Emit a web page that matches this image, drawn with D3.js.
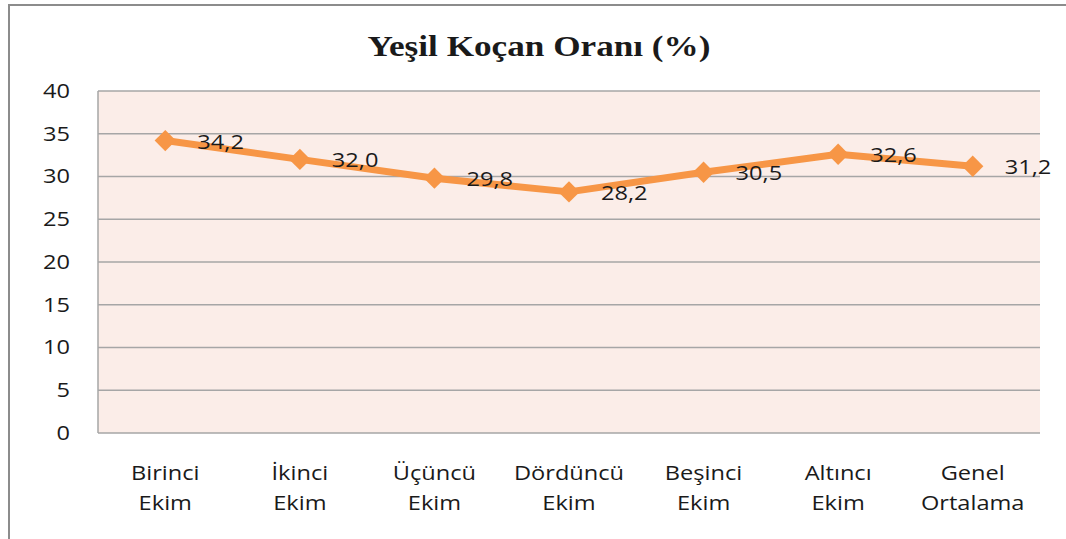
<!DOCTYPE html>
<html>
<head>
<meta charset="utf-8">
<script src="https://cdn.jsdelivr.net/npm/d3@7"></script>
<style>
  body { margin: 0; background: #fff; }
  text { font-family: "Open Sans", "DejaVu Sans", sans-serif; fill: #1a1a1a; }
</style>
</head>
<body>
<div id="chart"></div>
<script>
const categories = [
    ["Birinci", "Ekim"],
    ["İkinci", "Ekim"],
    ["Üçüncü", "Ekim"],
    ["Dördüncü", "Ekim"],
    ["Beşinci", "Ekim"],
    ["Altıncı", "Ekim"],
    ["Genel", "Ortalama"]
]
const values = [34.2, 32.0, 29.8, 28.2, 30.5, 32.6, 31.2]
const yTicks = [0, 5, 10, 15, 20, 25, 30, 35, 40]
const title = "Yeşil Koçan Oranı (%)"

const width = 1066;
const height = 539;

const margin = {
    "top": 91,
    "left": 98,
    "bottom": 106,
    "right": 26
}
const innerW = width - margin.left - margin.right;
const innerH = height - margin.top - margin.bottom;

// stretch text horizontally, the source picture is widened
const stretch = 1.18;
function widen(sel) {
    sel.each(function() {
        const w = this.getComputedTextLength();
        d3.select(this).attr("textLength", w * stretch).attr("lengthAdjust", "spacingAndGlyphs");
    });
}

const svg = d3.select("#chart").append("svg").attr("width", width).attr("height", height);

// outer frame
svg.append("rect")
    .attr("x", 9)
    .attr("y", 5)
    .attr("width", width + 20)
    .attr("height", height + 20)
    .attr("fill", "none")
    .attr("stroke", "#8c8c8c")
    .attr("stroke-width", 2);

svg.append("text")
    .attr("x", 539)
    .attr("y", 56)
    .attr("text-anchor", "middle")
    .style("font-family", "'Liberation Serif', serif")
    .style("font-weight", "bold")
    .style("font-size", "29px")
    .attr("fill", "#000")
    .attr("textLength", 343)
    .attr("lengthAdjust", "spacingAndGlyphs")
    .text(title);

const x = d3.scaleBand()
    .domain(categories.map((d, i) => i))
    .range([0, innerW]);

const y = d3.scaleLinear()
    .domain([0, 40])
    .range([innerH, 0]);

const g = svg.append("g").attr("transform", `translate(${margin.left},${margin.top})`);

g.append("rect")
    .attr("width", innerW)
    .attr("height", innerH)
    .attr("fill", "#fbede8");

g.selectAll("line.grid")
    .data(yTicks)
    .join("line")
    .attr("class", "grid")
    .attr("x1", 0)
    .attr("x2", innerW)
    .attr("y1", d => y(d))
    .attr("y2", d => y(d))
    .attr("stroke", "#a6a6a6")
    .attr("stroke-width", 1.5);

g.append("line")
    .attr("x1", 0).attr("x2", 0)
    .attr("y1", 0).attr("y2", innerH)
    .attr("stroke", "#a6a6a6")
    .attr("stroke-width", 1.5);

let yAxis = d3.axisLeft(y).tickValues(yTicks).tickSize(0).tickPadding(28);
const yG = g.append("g").call(yAxis);
yG.select(".domain").remove();
yG.selectAll("text")
    .style("font-size", "20px")
    .attr("fill", "#1a1a1a")
    .attr("font-family", null)
    .call(widen);

// category labels, two lines each
const xl = g.append("g").attr("transform", `translate(0,${innerH})`);
xl.selectAll("text")
    .data(categories)
    .join("text")
    .attr("x", (d, i) => x(i) + x.bandwidth() / 2)
    .attr("y", 47)
    .attr("text-anchor", "middle")
    .style("font-size", "20px")
    .each(function(d) {
        const t = d3.select(this);
        d.forEach((line, j) => {
            t.append("tspan")
                .attr("x", t.attr("x"))
                .attr("dy", j === 0 ? 0 : 30)
                .text(line);
        });
    });
xl.selectAll("tspan").each(function() {
    const w = this.getComputedTextLength();
    d3.select(this).attr("textLength", w * stretch).attr("lengthAdjust", "spacingAndGlyphs");
});

const line = d3.line()
    .x((d, i) => x(i) + x.bandwidth() / 2)
    .y(d => y(d));

g.append("path")
    .datum(values)
    .attr("d", line)
    .attr("fill", "none")
    .attr("stroke", "#f79646")
    .attr("stroke-width", 7)
    .attr("stroke-linejoin", "round");

g.selectAll("path.marker")
    .data(values)
    .join("path")
    .attr("class", "marker")
    .attr("d", d3.symbol().type(d3.symbolDiamond2).size(290))
    .attr("transform", (d, i) => `translate(${x(i) + x.bandwidth() / 2},${y(d)})`)
    .attr("fill", "#f79646");

g.selectAll("text.val")
    .data(values)
    .join("text")
    .attr("class", "val")
    .attr("x", (d, i) => x(i) + x.bandwidth() / 2 + 32)
    .attr("y", d => y(d) + 8)
    .style("font-size", "20px")
    .text(d => d.toFixed(1).replace(".", ","))
    .call(widen);
</script>
</body>
</html>
